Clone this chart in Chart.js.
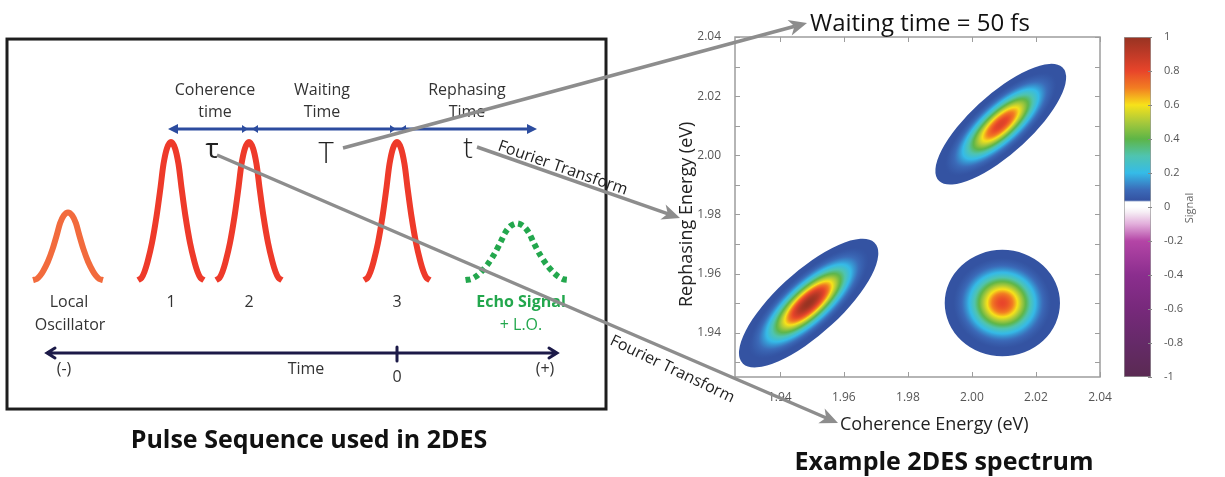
<!DOCTYPE html>
<html>
<head>
<meta charset="utf-8">
<script src="https://cdn.jsdelivr.net/npm/chart.js@4.4.1/dist/chart.umd.min.js"></script>
<style>
    html, body { margin: 0; padding: 0; background: #fff; }
    #wrap { position: relative; width: 1225px; height: 477px; overflow: hidden; }
    canvas { position: absolute; top: 0; }
    #colorbarChart { left: 1100px; }
    #spectrumChart { left: 640px; }
    #pulseChart { left: 0; z-index: 2; }
</style>
</head>
<body>
<div id="wrap">
    <canvas id="colorbarChart" width="125" height="477"></canvas>
    <canvas id="spectrumChart" width="490" height="477"></canvas>
    <canvas id="pulseChart" width="1225" height="477"></canvas>
</div>
<script>
// pulse sequence: time (arb. units, pulse 3 at 0), amplitude relative to pump pulses
const pulseLabels = ['Local Oscillator', '1', '2', '3', 'Echo Signal'];
const pulseTimes = [-3.29, -2.26, -1.48, 0, 1.2];
const pulseAmps = [0.49, 1, 1, 1, 0.41];
const pulseWidths = [1.06, 1, 1, 1, 1.56];
const pulseColors = ['#f26b3d', '#ee3a2a', '#ee3a2a', '#ee3a2a', '#23a74d'];
// envelope of one pulse
const shapeOffsets = [-0.33, -0.295, -0.265, -0.235, -0.19, -0.145, -0.105, -0.075, -0.04, 0, 0.04, 0.075, 0.105, 0.145, 0.19, 0.235, 0.265, 0.295, 0.33];
const shapeLevels = [0, 0.015, 0.06, 0.13, 0.27, 0.46, 0.67, 0.84, 0.955, 1, 0.955, 0.84, 0.67, 0.46, 0.27, 0.13, 0.06, 0.015, 0];

// 2D spectrum
const energyTicks = [1.93, 1.94, 1.95, 1.96, 1.97, 1.98, 1.99, 2.00, 2.01, 2.02, 2.03, 2.04];
const energyLabelTicks = [1.94, 1.96, 1.98, 2.00, 2.02, 2.04];
const peakCoherence = [1.949, 2.009, 2.0095];
const peakRephasing = [1.95, 2.0105, 1.95];
const peakSignal = [1.0, 0.83, 0.8];
const peakDiagWidth = [0.029, 0.0272, 0.018];
const peakAntiWidth = [0.0103, 0.0097, 0.018];

// colour bar
const signalTicks = [1, 0.8, 0.6, 0.4, 0.2, 0, -0.2, -0.4, -0.6, -0.8, -1];
const signalStops = [1, 0.9, 0.8, 0.7, 0.6, 0.5, 0.4, 0.3, 0.2, 0.1, 0.04, 0.03, 0, -0.03, -0.1, -0.2, -0.4, -0.6, -0.8, -1];
const signalColors = ['#973322', '#bf3a27', '#e8452a', '#f27d22', '#f7e21a', '#a9c93b', '#5db547', '#4fc4b0', '#35bbe8', '#3b6ab8', '#3453a2', '#ffffff', '#ffffff', '#f6eef5', '#e2aedb', '#b445a6', '#8b2e8e', '#77297b', '#652a68', '#5a2a52'];

Chart.defaults.font.family = '"Open Sans", sans-serif';
Chart.defaults.color = '#555';

function hexRgb(h) {
    return [parseInt(h.slice(1, 3), 16), parseInt(h.slice(3, 5), 16), parseInt(h.slice(5, 7), 16)];
}

function signalColor(v) {
    for (let i = 0; i < signalStops.length - 1; i++) {
        const a = signalStops[i], b = signalStops[i + 1];
        if (v <= a && v >= b) {
            const f = (a - v) / (a - b);
            const c0 = hexRgb(signalColors[i]), c1 = hexRgb(signalColors[i + 1]);
            return 'rgb(' + c0.map((c, k) => Math.round(c + (c1[k] - c) * f)).join(',') + ')';
        }
    }
    return v > 0 ? signalColors[0] : signalColors[signalColors.length - 1];
}

function drawText(ctx, str, x, y, font, color, align, angle) {
    ctx.save();
    ctx.font = font;
    ctx.fillStyle = color;
    ctx.textAlign = align || 'center';
    ctx.textBaseline = 'alphabetic';
    ctx.translate(x, y);
    if (angle) ctx.rotate(angle);
    ctx.fillText(str, 0, 0);
    ctx.restore();
}

function grayArrow(ctx, x0, y0, x1, y1) {
    const ang = Math.atan2(y1 - y0, x1 - x0);
    const L = 18, W = 8;
    ctx.save();
    ctx.strokeStyle = '#8d8d8d';
    ctx.fillStyle = '#8d8d8d';
    ctx.lineWidth = 3.5;
    ctx.beginPath();
    ctx.moveTo(x0, y0);
    ctx.lineTo(x1 - Math.cos(ang) * L * 0.7, y1 - Math.sin(ang) * L * 0.7);
    ctx.stroke();
    ctx.translate(x1, y1);
    ctx.rotate(ang);
    ctx.beginPath();
    ctx.moveTo(0, 0);
    ctx.lineTo(-L, -W);
    ctx.lineTo(-L * 0.72, 0);
    ctx.lineTo(-L, W);
    ctx.closePath();
    ctx.fill();
    ctx.restore();
}

function solidHead(ctx, x, y, dir, len, half) {
    ctx.beginPath();
    ctx.moveTo(x, y);
    ctx.lineTo(x - dir * len, y - half);
    ctx.lineTo(x - dir * len, y + half);
    ctx.closePath();
    ctx.fill();
}

// ---------- colour bar ----------
function signalGradient(chart) {
    const { ctx, chartArea, scales } = chart;
    if (!chartArea) return '#3453a2';
    const top = scales.y.getPixelForValue(1), bottom = scales.y.getPixelForValue(-1);
    const g = ctx.createLinearGradient(0, top, 0, bottom);
    signalStops.forEach((s, i) => g.addColorStop((scales.y.getPixelForValue(s) - top) / (bottom - top), signalColors[i]));
    return g;
}

const colorbarExtras = {
    id: 'colorbarExtras',
    afterDraw(chart) {
        const { ctx, chartArea, scales } = chart;
        ctx.save();
        ctx.strokeStyle = '#888';
        ctx.lineWidth = 1;
        signalTicks.forEach(v => {
            const y = Math.round(scales.y.getPixelForValue(v)) + 0.5;
            ctx.beginPath();
            ctx.moveTo(chartArea.right - 3, y);
            ctx.lineTo(chartArea.right + 1, y);
            ctx.stroke();
        });
        ctx.restore();
        drawText(ctx, 'Signal', chartArea.right + 42, (chartArea.top + chartArea.bottom) / 2 + 1, '11px "Open Sans"', '#666', 'center', -Math.PI / 2);
    }
};

new Chart(document.getElementById('colorbarChart'), {
    type: 'bar',
    data: {
        labels: ['Signal'],
        datasets: [{
            data: [[-1, 1]],
            backgroundColor: c => signalGradient(c.chart),
            borderColor: '#9a9a9a',
            borderWidth: 1,
            borderSkipped: false,
            barPercentage: 1,
            categoryPercentage: 1
        }]
    },
    options: {
        responsive: false,
        animation: false,
        layout: { padding: { left: 24, top: 37, bottom: 100, right: 0 } },
        plugins: { legend: { display: false }, tooltip: { enabled: false } },
        scales: {
            x: { display: false },
            y: {
                position: 'right', min: -1, max: 1,
                afterBuildTicks: s => { s.ticks = signalTicks.map(v => ({ value: v })); },
                grid: { display: false }, border: { display: false },
                ticks: { padding: 5, color: '#555', font: { size: 11 }, autoSkip: false,
                    callback: v => (Number.isInteger(v) ? String(v) : v.toFixed(1)) },
                afterFit: s => { s.width = 74; }
            }
        }
    },
    plugins: [colorbarExtras]
});

// ---------- 2D spectrum ----------
const peakContours = {
    id: 'peakContours',
    beforeDatasetsDraw(chart) {
        const { ctx, chartArea } = chart;
        const xs = chart.scales.x, ys = chart.scales.y;
        const h = Math.SQRT1_2;
        ctx.save();
        ctx.beginPath();
        ctx.rect(chartArea.left, chartArea.top, chartArea.width, chartArea.height);
        ctx.clip();
        peakCoherence.forEach((px, i) => {
            const py = peakRephasing[i], A = peakSignal[i];
            const a = peakDiagWidth[i], b = peakAntiWidth[i];
            const cx = xs.getPixelForValue(px), cy = ys.getPixelForValue(py);
            const d1x = xs.getPixelForValue(px + a * h) - cx, d1y = ys.getPixelForValue(py + a * h) - cy;
            const d2x = xs.getPixelForValue(px - b * h) - cx, d2y = ys.getPixelForValue(py + b * h) - cy;
            const floor = 0.012;
            ctx.save();
            ctx.transform(d1x, d1y, d2x, d2y, cx, cy);
            const g = ctx.createRadialGradient(0, 0, 0, 0, 0, 1);
            for (let k = 0; k <= 50; k++) {
                const r = k / 50;
                const v = A * Math.pow(floor / A, r * r);
                g.addColorStop(r, signalColor(Math.max(v, 0.04)));
            }
            ctx.fillStyle = g;
            ctx.beginPath();
            ctx.arc(0, 0, 1, 0, Math.PI * 2);
            ctx.fill();
            ctx.restore();
        });
        ctx.restore();
    },
    afterDraw(chart) {
        const { ctx, chartArea } = chart;
        const xs = chart.scales.x, ys = chart.scales.y;
        const { left, right, top, bottom } = chartArea;
        ctx.save();
        ctx.strokeStyle = '#9d9d9d';
        ctx.lineWidth = 1.5;
        ctx.strokeRect(left, top, right - left, bottom - top);
        ctx.lineWidth = 1;
        energyLabelTicks.forEach(v => {
            const x = Math.round(xs.getPixelForValue(v)) + 0.5;
            ctx.beginPath();
            ctx.moveTo(x, bottom); ctx.lineTo(x, bottom - 5);
            ctx.moveTo(x, top); ctx.lineTo(x, top + 5);
            ctx.stroke();
        });
        energyTicks.forEach(v => {
            const y = Math.round(ys.getPixelForValue(v)) + 0.5;
            ctx.beginPath();
            ctx.moveTo(left, y); ctx.lineTo(left + 5, y);
            ctx.moveTo(right, y); ctx.lineTo(right - 5, y);
            ctx.stroke();
        });
        ctx.restore();
        drawText(ctx, 'Rephasing Energy (eV)', left - 43, bottom - 70, '18px "Open Sans"', '#222', 'left', -Math.PI / 2);
        drawText(ctx, 'Coherence Energy (eV)', left + 105, bottom + 53, '18px "Open Sans"', '#222', 'left');
    }
};

new Chart(document.getElementById('spectrumChart'), {
    type: 'scatter',
    data: {
        datasets: [{
            label: 'Peaks',
            data: peakCoherence.map((x, i) => ({ x, y: peakRephasing[i] })),
            pointRadius: 0
        }]
    },
    options: {
        responsive: false,
        animation: false,
        layout: { padding: { top: 37, right: 30, left: 0, bottom: 0 } },
        plugins: { legend: { display: false }, tooltip: { enabled: false } },
        scales: {
            x: {
                type: 'linear', min: 1.926, max: 2.04,
                afterBuildTicks: s => { s.ticks = energyLabelTicks.map(v => ({ value: v })); },
                grid: { display: false }, border: { display: false },
                ticks: { autoSkip: false, maxRotation: 0, padding: 5, color: '#555', font: { size: 12 }, callback: v => v.toFixed(2) },
                afterFit: s => { s.height = 100; }
            },
            y: {
                type: 'linear', min: 1.925, max: 2.04,
                afterBuildTicks: s => { s.ticks = energyLabelTicks.map(v => ({ value: v })); },
                grid: { display: false }, border: { display: false },
                ticks: { autoSkip: false, padding: 6, color: '#555', font: { size: 12 }, callback: v => v.toFixed(2) },
                afterFit: s => { s.width = 95; }
            }
        }
    },
    plugins: [peakContours]
});

// ---------- pulse sequence + annotations ----------
const diagramExtras = {
    id: 'diagramExtras',
    beforeDatasetsDraw(chart) {
        const { ctx } = chart;
        const X = t => chart.scales.x.getPixelForValue(t);
        const Y = a => chart.scales.y.getPixelForValue(a);
        ctx.save();
        ctx.strokeStyle = '#1e1e1e';
        ctx.lineWidth = 3;
        ctx.strokeRect(X(-3.9), Y(1.746), X(2.09) - X(-3.9), Y(-0.935) - Y(1.746));
        ctx.restore();
    },
    afterDatasetsDraw(chart) {
        const { ctx } = chart;
        const X = t => chart.scales.x.getPixelForValue(t);
        const Y = a => chart.scales.y.getPixelForValue(a);
        const label = '16px "Open Sans"';

        // interval arrow (blue)
        const yb = Y(1.094);
        ctx.save();
        ctx.strokeStyle = '#2c4c9f';
        ctx.fillStyle = '#2c4c9f';
        ctx.lineWidth = 3;
        ctx.beginPath();
        ctx.moveTo(X(-2.22), yb); ctx.lineTo(X(1.33), yb);
        ctx.stroke();
        solidHead(ctx, X(-2.29), yb, -1, 10, 5);
        solidHead(ctx, X(1.40), yb, 1, 10, 5);
        [pulseTimes[2], pulseTimes[3]].forEach(t => {
            solidHead(ctx, X(t) - 1, yb, 1, 6, 4);
            solidHead(ctx, X(t) + 3, yb, -1, 6, 4);
        });
        ctx.restore();

        drawText(ctx, 'Coherence', X(-1.82), Y(1.341), label, '#333');
        drawText(ctx, 'time', X(-1.82), Y(1.181), label, '#333');
        drawText(ctx, 'Waiting', X(-0.75), Y(1.341), label, '#333');
        drawText(ctx, 'Time', X(-0.75), Y(1.181), label, '#333');
        drawText(ctx, 'Rephasing', X(0.70), Y(1.341), label, '#333');
        drawText(ctx, 'Time', X(0.70), Y(1.181), label, '#333');

        drawText(ctx, 'τ', X(-1.85), Y(0.884), '28px "Open Sans"', '#222');
        drawText(ctx, 'T', X(-0.71), Y(0.848), '300 29px "Open Sans"', '#222');
        drawText(ctx, 't', X(0.71), Y(0.884), '300 29px "Open Sans"', '#222');

        // pulse labels
        drawText(ctx, 'Local', X(pulseTimes[0]) + 1, Y(-0.196), label, '#333');
        drawText(ctx, 'Oscillator', X(pulseTimes[0]) + 2, Y(-0.362), label, '#333');
        [1, 2, 3].forEach(i => drawText(ctx, pulseLabels[i], X(pulseTimes[i]), Y(-0.196), label, '#333'));
        drawText(ctx, 'Echo Signal', X(pulseTimes[4]) + 4, Y(-0.196), 'bold 16px "Open Sans"', '#23a74d');
        drawText(ctx, '+ L.O.', X(pulseTimes[4]) + 4, Y(-0.362), label, '#23a74d');

        // time axis
        const yt = Y(-0.529);
        ctx.save();
        ctx.strokeStyle = '#1c1a48';
        ctx.lineWidth = 3;
        ctx.lineCap = 'round';
        ctx.beginPath();
        ctx.moveTo(X(-3.49), yt); ctx.lineTo(X(1.59), yt);
        ctx.moveTo(X(-3.42), yt - 5); ctx.lineTo(X(-3.5), yt); ctx.lineTo(X(-3.42), yt + 5);
        ctx.moveTo(X(1.52), yt - 5); ctx.lineTo(X(1.60), yt); ctx.lineTo(X(1.52), yt + 5);
        ctx.moveTo(X(0), Y(-0.486)); ctx.lineTo(X(0), Y(-0.587));
        ctx.stroke();
        ctx.restore();
        drawText(ctx, '(-)', X(-3.33), Y(-0.681), label, '#333');
        drawText(ctx, 'Time', X(-0.91), Y(-0.681), label, '#333');
        drawText(ctx, '0', X(0), Y(-0.739), label, '#333');
        drawText(ctx, '(+)', X(1.48), Y(-0.681), label, '#333');

        // panel titles
        drawText(ctx, 'Pulse Sequence used in 2DES', 309, 448, 'bold 25px "Open Sans"', '#111');
        drawText(ctx, 'Example 2DES spectrum', 944, 470, 'bold 25px "Open Sans"', '#111');
        drawText(ctx, 'Waiting time = 50 fs', 810, 31, '24px "Open Sans"', '#111', 'left');

        // Fourier transform arrows
        grayArrow(ctx, 343, 148, 807, 23);
        grayArrow(ctx, 477, 147, 680, 218);
        grayArrow(ctx, 217, 155, 838, 423);
        drawText(ctx, 'Fourier Transform', 497, 150, '16px "Open Sans"', '#222', 'left', Math.atan2(71, 203));
        drawText(ctx, 'Fourier Transform', 609, 344, '16px "Open Sans"', '#222', 'left', Math.atan2(60, 125));
    }
};

new Chart(document.getElementById('pulseChart'), {
    type: 'line',
    data: {
        datasets: pulseTimes.map((t, i) => ({
            label: pulseLabels[i],
            data: shapeOffsets.map((o, k) => ({ x: t + o * pulseWidths[i], y: shapeLevels[k] * pulseAmps[i] })),
            borderColor: pulseColors[i],
            borderWidth: 6,
            borderDash: i === 4 ? [5, 4] : [],
            borderJoinStyle: 'round',
            tension: 0.3,
            pointRadius: 0,
            fill: false,
            clip: false
        }))
    },
    options: {
        responsive: false,
        animation: false,
        layout: { padding: 0 },
        plugins: { legend: { display: false }, tooltip: { enabled: false } },
        scales: {
            x: { type: 'linear', display: false, min: -3.97, max: 8.28 },
            y: { type: 'linear', display: false, min: -1.4275, max: 2.029 }
        }
    },
    plugins: [diagramExtras]
});
</script>
</body>
</html>
